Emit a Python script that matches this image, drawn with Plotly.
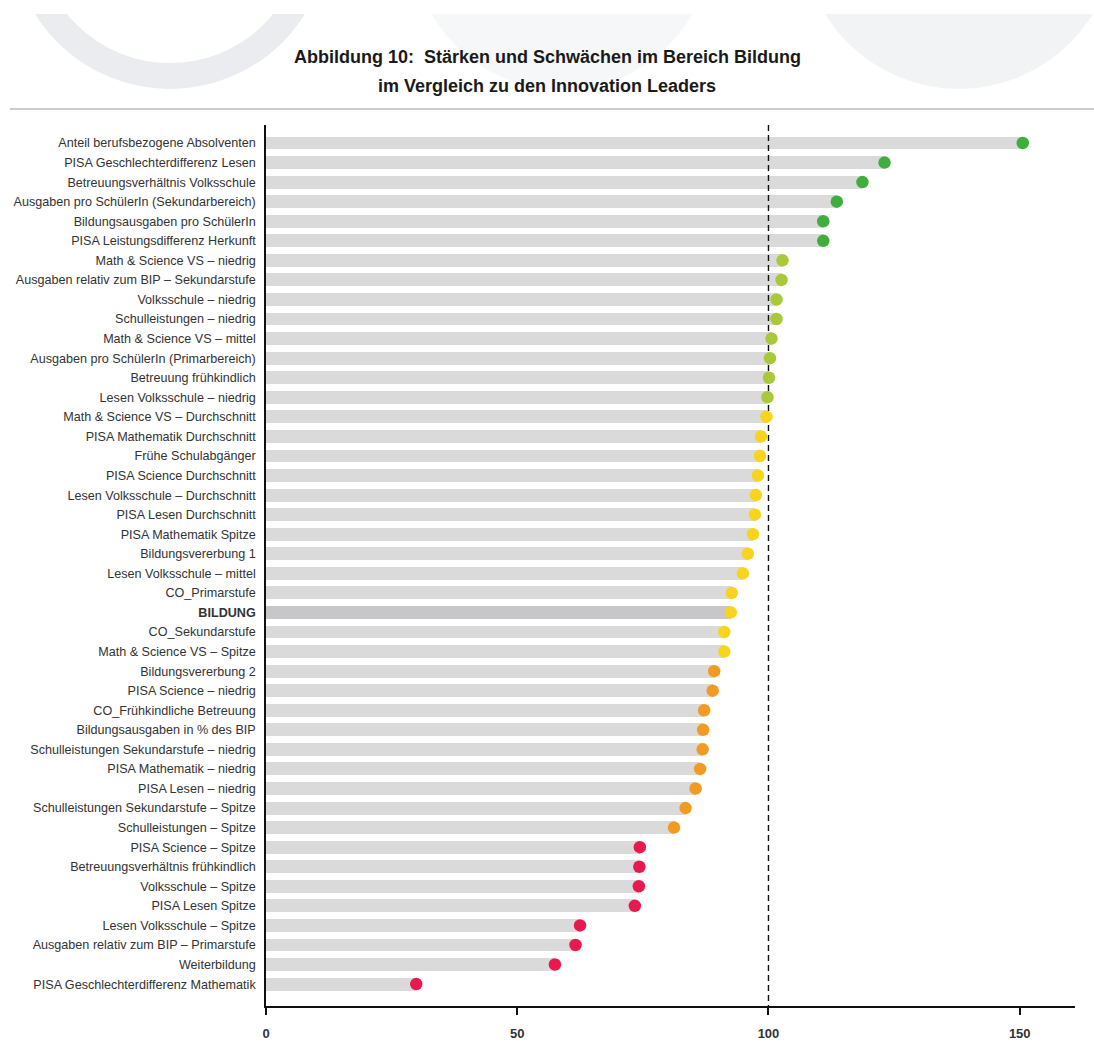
import plotly.graph_objects as go

# Indicator names (top to bottom)
categories = [
    "Anteil berufsbezogene Absolventen",
    "PISA Geschlechterdifferenz Lesen",
    "Betreuungsverhältnis Volksschule",
    "Ausgaben pro SchülerIn (Sekundarbereich)",
    "Bildungsausgaben pro SchülerIn",
    "PISA Leistungsdifferenz Herkunft",
    "Math & Science VS – niedrig",
    "Ausgaben relativ zum BIP – Sekundarstufe",
    "Volksschule – niedrig",
    "Schulleistungen – niedrig",
    "Math & Science VS – mittel",
    "Ausgaben pro SchülerIn (Primarbereich)",
    "Betreuung frühkindlich",
    "Lesen Volksschule – niedrig",
    "Math & Science VS – Durchschnitt",
    "PISA Mathematik Durchschnitt",
    "Frühe Schulabgänger",
    "PISA Science Durchschnitt",
    "Lesen Volksschule – Durchschnitt",
    "PISA Lesen Durchschnitt",
    "PISA Mathematik Spitze",
    "Bildungsvererbung 1",
    "Lesen Volksschule – mittel",
    "CO_Primarstufe",
    "BILDUNG",
    "CO_Sekundarstufe",
    "Math & Science VS – Spitze",
    "Bildungsvererbung 2",
    "PISA Science – niedrig",
    "CO_Frühkindliche Betreuung",
    "Bildungsausgaben in % des BIP",
    "Schulleistungen Sekundarstufe – niedrig",
    "PISA Mathematik – niedrig",
    "PISA Lesen – niedrig",
    "Schulleistungen Sekundarstufe – Spitze",
    "Schulleistungen – Spitze",
    "PISA Science – Spitze",
    "Betreuungsverhältnis frühkindlich",
    "Volksschule – Spitze",
    "PISA Lesen Spitze",
    "Lesen Volksschule – Spitze",
    "Ausgaben relativ zum BIP – Primarstufe",
    "Weiterbildung",
    "PISA Geschlechterdifferenz Mathematik",
]

# Index values (Innovation Leaders = 100)
values = [
    150.6, 123.1, 118.7, 113.6, 110.9, 110.9, 102.8, 102.6, 101.6, 101.6,
    100.6, 100.3, 100.1, 99.8, 99.6, 98.5, 98.3, 97.9, 97.5, 97.3,
    96.9, 95.9, 94.9, 92.7, 92.5, 91.2, 91.2, 89.2, 88.9, 87.2,
    87.0, 86.9, 86.4, 85.5, 83.5, 81.2, 74.4, 74.3, 74.2, 73.4,
    62.5, 61.6, 57.5, 29.9,
]

# Assessment class of each indicator
tiers = (["stark"] * 6 + ["eher stark"] * 8 + ["neutral"] * 13
         + ["eher schwach"] * 9 + ["schwach"] * 8)

x_ticks = [0, 50, 100, 150]
reference_level = 100
summary_label = "BILDUNG"

tier_colors = {
    "stark": "#3fae3f",
    "eher stark": "#a9c93a",
    "neutral": "#f8d51c",
    "eher schwach": "#f29b22",
    "schwach": "#e8194c",
}

W, H = 1094, 1057
ML, MR, MT, MB = 266, 19, 125, 51
PW, PH = W - ML - MR, H - MT - MB


def px(xpix):
    return (xpix - ML) / PW


def py(ypix):
    return (H - MB - ypix) / PH


idx = list(range(len(categories)))
dot_colors = [tier_colors[t] for t in tiers]
bar_colors = ["#c7c7ca" if c == summary_label else "#dadada" for c in categories]
tick_text = [f"<b>{c}</b>" if c == summary_label else c for c in categories]

label_font = "Liberation Sans, Arial, sans-serif"
bold_font = "Liberation Sans, Arial, sans-serif"

fig = go.Figure()

fig.add_trace(go.Bar(
    x=values, y=idx, orientation="h", base=0, width=0.66,
    marker=dict(color=bar_colors, line=dict(width=0)),
    hoverinfo="skip", showlegend=False,
))

y_lo, y_hi = -0.92, len(categories) - 1 + 1.12
fig.add_trace(go.Scatter(
    x=[reference_level, reference_level], y=[y_lo, y_hi], mode="lines",
    line=dict(color="#111111", width=1.4, dash="6px,4px"),
    hoverinfo="skip", showlegend=False,
))

fig.add_trace(go.Scatter(
    x=values, y=idx, mode="markers",
    marker=dict(color=dot_colors, size=12.5, line=dict(width=0)),
    showlegend=False,
))

shapes = [
    # decorative background motifs at the top
    dict(type="circle", xref="paper", yref="paper",
         x0=px(170 - 146), x1=px(170 + 146), y0=py(-70 + 146), y1=py(-70 - 146),
         line=dict(color="#eaecef", width=26), fillcolor="rgba(0,0,0,0)", layer="above"),
    dict(type="circle", xref="paper", yref="paper",
         x0=px(562 - 150), x1=px(562 + 150), y0=py(-60 + 150), y1=py(-60 - 150),
         line=dict(width=0), fillcolor="#f6f7f8", layer="above"),
    dict(type="circle", xref="paper", yref="paper",
         x0=px(959 - 157), x1=px(959 + 157), y0=py(-68 + 157), y1=py(-68 - 157),
         line=dict(width=0), fillcolor="#f2f3f5", layer="above"),
    dict(type="rect", xref="paper", yref="paper",
         x0=px(-5), x1=px(W + 5), y0=py(14), y1=py(-300),
         line=dict(width=0), fillcolor="white", layer="above"),
    # separator under the heading
    dict(type="line", xref="paper", yref="paper",
         x0=px(10), x1=px(W), y0=py(109), y1=py(109),
         line=dict(color="#cdcdcd", width=2), layer="above"),
]

annotations = [
    dict(text="<b>Abbildung 10:  Stärken und Schwächen im Bereich Bildung</b>",
         xref="paper", yref="paper", x=px(547), y=py(57), showarrow=False,
         xanchor="center", yanchor="middle",
         font=dict(family=bold_font, size=18, color="#1a1a1a")),
    dict(text="<b>im Vergleich zu den Innovation Leaders</b>",
         xref="paper", yref="paper", x=px(547), y=py(86), showarrow=False,
         xanchor="center", yanchor="middle",
         font=dict(family=bold_font, size=18, color="#1a1a1a")),
]

fig.update_layout(
    width=W, height=H,
    margin=dict(l=ML, r=MR, t=MT, b=MB, pad=0),
    paper_bgcolor="white", plot_bgcolor="white",
    bargap=0, shapes=shapes, annotations=annotations,
    font=dict(family=label_font, color="#333333"),
)

fig.update_xaxes(
    range=[0, 161], tickvals=x_ticks, ticktext=[f"<b>{v}</b>" for v in x_ticks],
    showgrid=False, zeroline=False,
    showline=True, linecolor="#111111", linewidth=1.5,
    ticks="outside", ticklen=7, tickwidth=1.5, tickcolor="#111111",
    tickfont=dict(family=bold_font, size=13, color="#333333"),
    ticklabelstandoff=8,
)

fig.update_yaxes(
    range=[y_hi, y_lo], tickvals=idx, ticktext=tick_text,
    showgrid=False, zeroline=False,
    showline=True, linecolor="#111111", linewidth=1.5,
    ticks="", ticklabelstandoff=6,
    tickfont=dict(family=label_font, size=12.6, color="#333333"),
)

fig.write_html("out.html")
